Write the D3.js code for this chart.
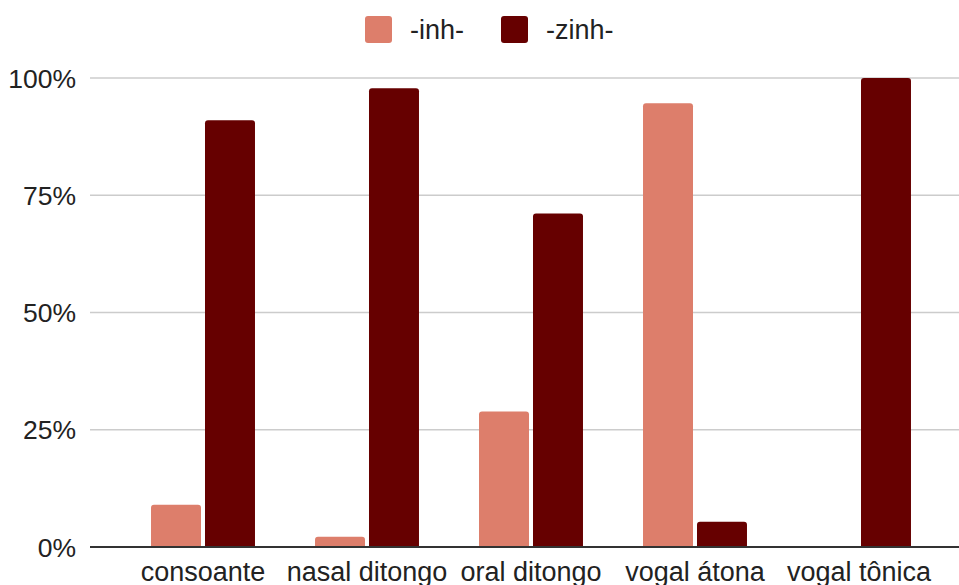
<!DOCTYPE html>
<html>
<head>
<meta charset="utf-8">
<script src="https://cdn.jsdelivr.net/npm/d3@7"></script>
<style>
  body { margin: 0; background: #fff; }
  svg { display: block; font-family: Arial, "Liberation Sans", sans-serif; }
</style>
</head>
<body>
<svg width="959" height="585"></svg>
<script>
// dados (percentual)
var categorias = ["consoante", "nasal ditongo", "oral ditongo", "vogal átona", "vogal tônica"]
var series = ["-inh-", "-zinh-"]
var valoresInh = [9.0, 2.2, 28.9, 94.6, 0]
var valoresZinh = [91.0, 97.8, 71.1, 5.4, 100]
var ticksY = [0, 25, 50, 75, 100]
var cores = ["#dd7e6b", "#660000"]

const width = 959
const height = 585

var svg = d3.select("svg")

var y = d3.scaleLinear().domain([0, 100]).range([547, 78])

var x = d3.scaleBand()
    .domain(categorias)
    .range([121, 941])
    .paddingInner(0.366)
    .paddingOuter(0.183)

var x1 = d3.scaleBand()
    .domain(series)
    .range([0, x.bandwidth()])
    .paddingInner(0.074)

var cor = d3.scaleOrdinal().domain(series).range(cores)

// linhas de grade
svg.append("g")
    .selectAll("line")
    .data(ticksY.filter(d => d > 0))
    .join("line")
    .attr("x1", 90)
    .attr("x2", width)
    .attr("y1", d => y(d))
    .attr("y2", d => y(d))
    .attr("stroke", "#cccccc")
    .attr("stroke-width", 1.5)

// rotulos do eixo y
svg.append("g")
    .selectAll("text")
    .data(ticksY)
    .join("text")
    .attr("x", 76)
    .attr("y", d => y(d))
    .attr("dy", "0.36em")
    .attr("text-anchor", "end")
    .style("font-size", "26.5px")
    .style("fill", "#222")
    .text(d => d + "%")

// barras com cantos de cima arredondados
function barra(x0, w, yTop, yBase, r) {
    var h = yBase - yTop
    if (h <= 0) return ""
    r = Math.min(r, h, w / 2)
    return "M" + x0 + "," + yBase +
        "V" + (yTop + r) +
        "Q" + x0 + "," + yTop + " " + (x0 + r) + "," + yTop +
        "H" + (x0 + w - r) +
        "Q" + (x0 + w) + "," + yTop + " " + (x0 + w) + "," + (yTop + r) +
        "V" + yBase + "Z"
}

var dados = []
categorias.forEach(function(c, i) {
    dados.push({cat: c, serie: series[0], valor: valoresInh[i]})
    dados.push({cat: c, serie: series[1], valor: valoresZinh[i]})
})

svg.append("g")
    .selectAll("path")
    .data(dados.filter(d => d.valor > 0))
    .join("path")
    .attr("d", d => barra(x(d.cat) + x1(d.serie), x1.bandwidth(), y(d.valor), y(0), 3))
    .style("fill", d => cor(d.serie))

// linha de base
svg.append("line")
    .attr("x1", 90)
    .attr("x2", width)
    .attr("y1", y(0))
    .attr("y2", y(0))
    .attr("stroke", "#333333")
    .attr("stroke-width", 2)

// rotulos do eixo x
svg.append("g")
    .selectAll("text")
    .data(categorias)
    .join("text")
    .attr("x", d => x(d) + x.bandwidth() / 2)
    .attr("y", 581)
    .attr("text-anchor", "middle")
    .style("font-size", "27px")
    .style("fill", "#222")
    .text(d => d)

// legenda
var legendaX = [365, 501]
var legenda = svg.append("g")
    .selectAll("g")
    .data(series)
    .join("g")
    .attr("transform", (d, i) => "translate(" + legendaX[i] + ",16)")

legenda.append("rect")
    .attr("width", 27)
    .attr("height", 27)
    .attr("rx", 3)
    .style("fill", d => cor(d))

legenda.append("text")
    .attr("x", 45)
    .attr("y", 13.5)
    .attr("dy", "0.36em")
    .style("font-size", "27px")
    .style("fill", "#222")
    .text(d => d)
</script>
</body>
</html>
